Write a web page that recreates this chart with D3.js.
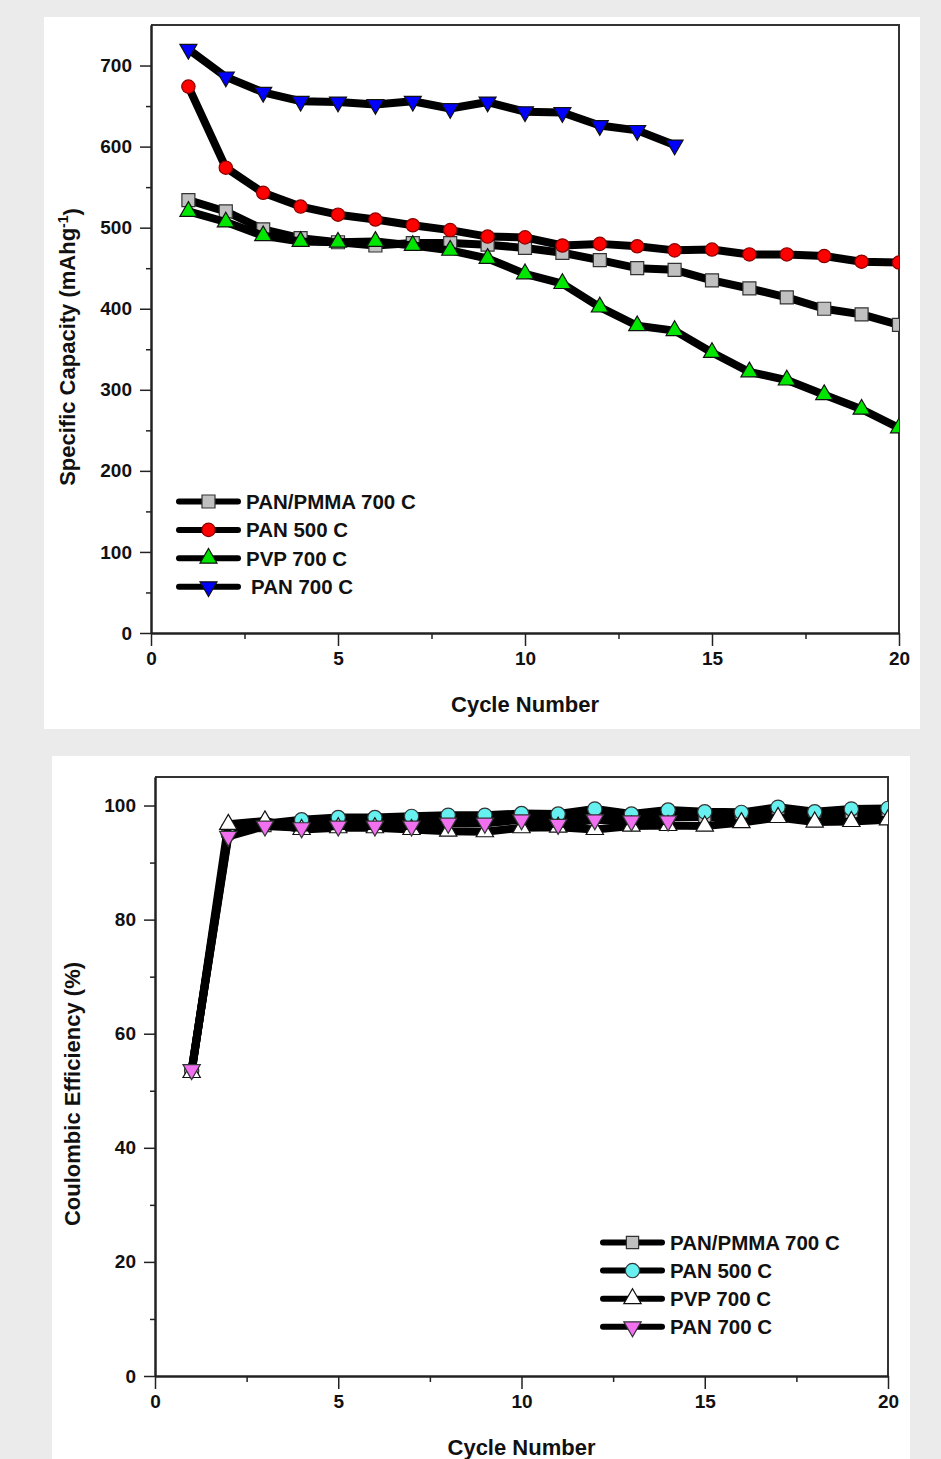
<html>
<head>
    <script src="https://d3js.org/d3.v7.min.js"></script>
    <style>
        body { margin: 0; background: #ebebeb; }
        text { font-family: "Liberation Sans", Arial, sans-serif; font-weight: bold; fill: #111; }
    </style>
</head>
<body></body>
<script>

    // data
    var cycles = [1, 2, 3, 4, 5, 6, 7, 8, 9, 10, 11, 12, 13, 14, 15, 16, 17, 18, 19, 20];
    var seriesNames = ["PAN/PMMA 700 C", "PAN 500 C", "PVP 700 C", "PAN 700 C"];

    // specific capacity (mAh/g)
    var capPanPmma700 = [534, 520, 498, 487, 482, 478, 481, 481, 479, 475, 469, 460, 450, 448, 435, 425, 414, 400, 393, 380];
    var capPan500 = [674, 574, 543, 526, 516, 510, 503, 497, 489, 488, 478, 480, 477, 472, 473, 467, 467, 465, 458, 457];
    var capPvp700 = [520, 507, 490, 483, 482, 483, 478, 472, 462, 443, 431, 402, 379, 373, 346, 322, 312, 294, 276, 253];
    var capPan700 = [720, 686, 667, 656, 655, 652, 656, 647, 655, 643, 642, 626, 620, 602];

    // coulombic efficiency (%)
    var cePanPmma700 = [53.5, 95.5, 96.5, 97, 97, 97.5, 97.5, 97.5, 97.5, 98, 98, 98, 98, 98, 98, 98, 98.5, 98, 98.5, 98.5];
    var cePan500 = [53.5, 95, 96.8, 97.5, 97.9, 97.9, 98.1, 98.3, 98.3, 98.6, 98.5, 99.4, 98.5, 99.2, 98.9, 98.8, 99.7, 98.9, 99.4, 99.5];
    var cePvp700 = [53.2, 96.7, 97.3, 95.8, 96.1, 96.1, 95.8, 95.5, 95.4, 96.1, 96.2, 95.8, 96.4, 96.5, 96.4, 97, 97.9, 97.1, 97.2, 97.5];
    var cePan700 = [53.7, 94.6, 96.4, 96.1, 96.4, 96.4, 96.4, 96.9, 96.9, 97.5, 96.7, 97.5, 97.3, 97.3];

    var capTicks = [0, 100, 200, 300, 400, 500, 600, 700];
    var capMinor = [50, 150, 250, 350, 450, 550, 650];
    var ceTicks = [0, 20, 40, 60, 80, 100];
    var ceMinor = [10, 30, 50, 70, 90];
    var cycleTicks = [0, 5, 10, 15, 20];
    var cycleMinor = [2.5, 7.5, 12.5, 17.5];

    var svg = d3.select("body")
        .append("svg")
        .attr("width", 941)
        .attr("height", 1459);

    function drawPanel(cfg) {
        // white card
        svg.append("rect")
            .attr("x", cfg.card[0]).attr("y", cfg.card[1])
            .attr("width", cfg.card[2]).attr("height", cfg.card[3])
            .attr("fill", "#fff");

        var x = d3.scaleLinear().domain([0, 20]).range(cfg.xr);
        var y = d3.scaleLinear().domain(cfg.yd).range(cfg.yr);

        var g = svg.append("g");

        // frame top + right
        g.append("path")
            .attr("d", "M" + cfg.xr[0] + "," + cfg.yr[1] + "H" + cfg.xr[1] + "V" + cfg.yr[0])
            .attr("fill", "none").attr("stroke", "#333").attr("stroke-width", 2);

        var clipId = "clip" + cfg.id;
        svg.append("clipPath").attr("id", clipId)
            .append("rect")
            .attr("x", cfg.xr[0]).attr("y", cfg.yr[1])
            .attr("width", cfg.xr[1] - cfg.xr[0]).attr("height", cfg.yr[0] - cfg.yr[1]);

        var plot = g.append("g").attr("clip-path", "url(#" + clipId + ")");

        var line = d3.line().x(function (d) { return x(d[0]); }).y(function (d) { return y(d[1]); });

        cfg.series.forEach(function (s) {
            var pts = s.values.map(function (v, i) { return [cycles[i], v]; });
            plot.append("path")
                .datum(pts)
                .attr("d", line)
                .attr("fill", "none")
                .attr("stroke", "#000")
                .attr("stroke-width", 8)
                .attr("stroke-linejoin", "round");
            plot.selectAll(null)
                .data(pts)
                .enter()
                .append("path")
                .attr("d", d3.symbol().type(s.sym).size(s.size))
                .attr("transform", function (d) {
                    return "translate(" + x(d[0]) + "," + y(d[1]) + ")" + (s.down ? " rotate(180)" : "");
                })
                .attr("fill", s.color)
                .attr("stroke", s.stroke)
                .attr("stroke-width", 1.2);
        });

        // axes
        var ax = g.append("g").attr("transform", "translate(0," + cfg.yr[0] + ")");
        ax.call(d3.axisBottom(x).tickValues(cycleTicks).tickSize(13).tickSizeOuter(0).tickPadding(6));
        var axm = g.append("g").attr("transform", "translate(0," + cfg.yr[0] + ")");
        axm.call(d3.axisBottom(x).tickValues(cycleMinor).tickSize(6).tickSizeOuter(0).tickFormat(""));

        var ay = g.append("g").attr("transform", "translate(" + cfg.xr[0] + ",0)");
        ay.call(d3.axisLeft(y).tickValues(cfg.ticks).tickSize(11).tickSizeOuter(0).tickPadding(8));
        var aym = g.append("g").attr("transform", "translate(" + cfg.xr[0] + ",0)");
        aym.call(d3.axisLeft(y).tickValues(cfg.minor).tickSize(5).tickSizeOuter(0).tickFormat(""));

        [ax, axm, ay, aym].forEach(function (a) {
            a.selectAll("path.domain").attr("stroke", "#222").attr("stroke-width", 2);
            a.selectAll(".tick line").attr("stroke", "#222").attr("stroke-width", 1.5);
            a.selectAll(".tick text")
                .style("font-family", "'Liberation Sans', Arial, sans-serif")
                .style("font-weight", "bold")
                .style("font-size", "19px")
                .attr("fill", "#111");
        });

        // axis titles
        g.append("text")
            .attr("x", (cfg.xr[0] + cfg.xr[1]) / 2)
            .attr("y", cfg.xTitleY)
            .attr("text-anchor", "middle")
            .style("font-size", "22px")
            .text("Cycle Number");

        var yt = g.append("text")
            .attr("transform", "translate(" + cfg.yTitleX + "," + cfg.yTitleY + ") rotate(-90)")
            .attr("text-anchor", "middle")
            .style("font-size", "22px");
        cfg.yTitle(yt);

        // legend
        var lg = g.append("g");
        cfg.series.forEach(function (s, i) {
            var ly = cfg.legend.y + i * cfg.legend.dy;
            lg.append("line")
                .attr("x1", cfg.legend.x).attr("x2", cfg.legend.x + 59)
                .attr("y1", ly).attr("y2", ly)
                .attr("stroke", "#000").attr("stroke-width", 6).attr("stroke-linecap", "round");
            lg.append("path")
                .attr("d", d3.symbol().type(s.sym).size(s.size))
                .attr("transform", "translate(" + (cfg.legend.x + 29.5) + "," + ly + ")" + (s.down ? " rotate(180)" : ""))
                .attr("fill", s.color).attr("stroke", s.stroke).attr("stroke-width", 1.2);
            lg.append("text")
                .attr("x", cfg.legend.x + 67 + (cfg.legend.shift && i === 3 ? 5 : 0))
                .attr("y", ly)
                .attr("dy", "0.36em")
                .style("font-size", "20.5px")
                .text(seriesNames[i]);
        });
    }

    drawPanel({
        id: 1,
        card: [44, 17, 876, 712],
        xr: [151, 899],
        yr: [633, 25],
        yd: [0, 750],
        ticks: capTicks,
        minor: capMinor,
        xTitleY: 712,
        yTitleX: 75,
        yTitleY: 347,
        yTitle: function (t) {
            t.append("tspan").text("Specific Capacity (mAhg");
            t.append("tspan").attr("dy", "-0.5em").style("font-size", "14px").text("-1");
            t.append("tspan").attr("dy", "0.5em").text(")");
        },
        legend: { x: 179, y: 501.5, dy: 28.4, shift: true },
        series: [
            { values: capPanPmma700, sym: d3.symbolSquare, size: 169, color: "#c0c0c0", stroke: "#333" },
            { values: capPan500, sym: d3.symbolCircle, size: 140, color: "#ff0000", stroke: "#800" },
            { values: capPvp700, sym: d3.symbolTriangle, size: 125, color: "#00e600", stroke: "#111" },
            { values: capPan700, sym: d3.symbolTriangle, size: 125, color: "#0000ff", stroke: "#111", down: true }
        ]
    });

    drawPanel({
        id: 2,
        card: [52, 756, 858, 703],
        xr: [155, 888],
        yr: [1376, 777],
        yd: [0, 105],
        ticks: ceTicks,
        minor: ceMinor,
        xTitleY: 1455,
        yTitleX: 80,
        yTitleY: 1094,
        yTitle: function (t) { t.text("Coulombic Efficiency (%)"); },
        legend: { x: 603, y: 1242.5, dy: 28.1 },
        series: [
            { values: cePanPmma700, sym: d3.symbolSquare, size: 150, color: "#c0c0c0", stroke: "#333" },
            { values: cePan500, sym: d3.symbolCircle, size: 160, color: "#66f0f0", stroke: "#333" },
            { values: cePvp700, sym: d3.symbolTriangle, size: 130, color: "#ffffff", stroke: "#111" },
            { values: cePan700, sym: d3.symbolTriangle, size: 130, color: "#f070f0", stroke: "#333", down: true }
        ]
    });

</script>
</html>
